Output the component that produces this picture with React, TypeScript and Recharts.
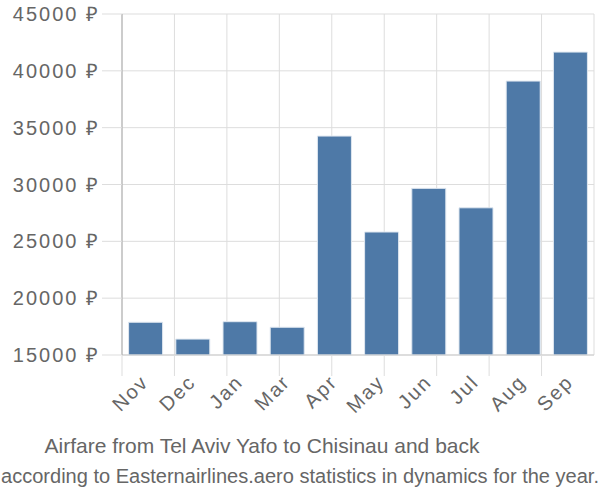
import { Bar, BarChart, CartesianGrid, XAxis, YAxis } from 'recharts';

const months = ['Nov', 'Dec', 'Jan', 'Mar', 'Apr', 'May', 'Jun', 'Jul', 'Aug', 'Sep'];
const prices = [17880, 16400, 17930, 17440, 34260, 25820, 29660, 27950, 39100, 41650];
const yTicks = [15000, 20000, 25000, 30000, 35000, 40000, 45000];
const boundaryTicks = [0, 1, 2, 3, 4, 5, 6, 7, 8, 9, 10];

const title = 'Airfare from Tel Aviv Yafo to Chisinau and back';
const subtitle = 'according to Easternairlines.aero statistics in dynamics for the year.';

const FONT = '"Liberation Sans", Arial, sans-serif';

const data = months.map((m, i) => ({ month: m, price: prices[i] }));

function MonthTick({ x, y, payload }: any) {
  return (
    <text
      x={x - 6}
      y={y + 10}
      transform={`rotate(-45, ${x - 6}, ${y + 10})`}
      textAnchor="end"
      dominantBaseline="hanging"
      fontSize={20}
      letterSpacing={2}
      fill="#666"
      fontFamily={FONT}
    >
      {payload.value}
    </text>
  );
}

const EmptyTick = () => <g />;

export default function App() {
  return (
    <div style={{ position: 'absolute', left: 0, top: 0, width: 600, height: 500, background: '#fff' }}>
      <BarChart
        width={600}
        height={500}
        data={data}
        margin={{ top: 14, right: 6, left: 0, bottom: 55 }}
        barCategoryGap="14%"
      >
        <CartesianGrid stroke="#ddd" xAxisId="grid" />
        {/* category axis: labels only, boundary ticks come from the "grid" axis */}
        <XAxis
          dataKey="month"
          tick={<MonthTick />}
          tickLine={false}
          axisLine={{ stroke: '#ccc' }}
          interval={0}
          height={1}
        />
        <XAxis
          xAxisId="grid"
          type="number"
          domain={[0, 10]}
          ticks={boundaryTicks}
          tick={<EmptyTick />}
          tickSize={20}
          tickLine={{ stroke: '#ddd' }}
          axisLine={false}
          height={89}
        />
        <YAxis
          domain={[15000, 45000]}
          ticks={yTicks}
          width={122}
          tickSize={20}
          tickLine={{ stroke: '#ddd' }}
          axisLine={{ stroke: '#aaa' }}
          tickFormatter={(v) => `${v} ₽`}
          tick={{ fontSize: 20, fill: '#666', fontFamily: FONT, letterSpacing: 2 }}
        />
        <Bar
          dataKey="price"
          fill="#4e79a7"
          stroke="#dfe7f0"
          strokeWidth={1}
          isAnimationActive={false}
        />
      </BarChart>
      <svg style={{ position: 'absolute', left: 0, top: 430 }} width={600} height={60}>
        <text x={262} y={23} textAnchor="middle" fontSize={21} fill="#666" fontFamily={FONT}>
          {title}
        </text>
        <text
          x={300}
          y={53}
          textAnchor="middle"
          fontSize={20}
          fill="#666"
          fontFamily={FONT}
          textLength={598}
          lengthAdjust="spacingAndGlyphs"
        >
          {subtitle}
        </text>
      </svg>
    </div>
  );
}
